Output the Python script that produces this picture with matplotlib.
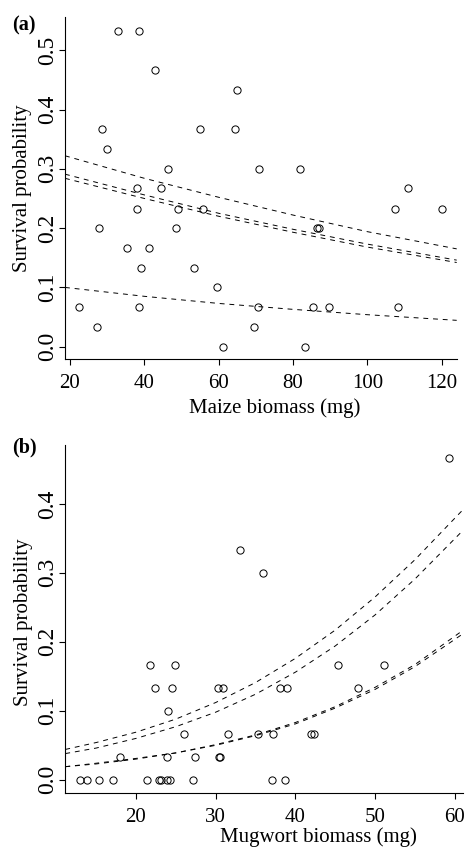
import numpy as np
import matplotlib
matplotlib.use("Agg")
import matplotlib.pyplot as plt

plt.rcParams['font.family'] = ['Liberation Serif', 'DejaVu Serif']

# panel (a): maize
maize_x = [33.0, 38.5, 42.8, 64.9, 28.7, 55.1, 64.4, 30.0, 46.4, 70.7, 81.9,
           38.0, 44.6, 110.8, 38.0, 49.1, 55.8, 107.4, 120.0, 27.8, 48.5, 86.3,
           86.9, 35.4, 41.2, 39.2, 53.4, 59.6, 22.5, 38.6, 70.6, 85.4, 89.7,
           108.3, 27.2, 69.5, 61.2, 83.2]
maize_y = [0.533, 0.533, 0.467, 0.433, 0.367, 0.367, 0.367, 0.333, 0.3, 0.3, 0.3,
           0.267, 0.267, 0.267, 0.233, 0.233, 0.233, 0.233, 0.233, 0.2, 0.2, 0.2,
           0.2, 0.167, 0.167, 0.133, 0.133, 0.1, 0.067, 0.067, 0.067, 0.067, 0.067,
           0.067, 0.033, 0.033, 0.0, 0.0]

# fitted curves
maize_fit_x = [18.66, 40, 60, 80, 100, 124]
maize_fit = [
    [0.322, 0.284, 0.252, 0.222, 0.194, 0.165],
    [0.291, 0.256, 0.225, 0.198, 0.173, 0.146],
    [0.284, 0.250, 0.220, 0.193, 0.168, 0.142],
    [0.100, 0.085, 0.073, 0.063, 0.054, 0.0445],
]

# panel (b): mugwort
mug_x = [59.3, 33.0, 35.9, 21.8, 24.9, 45.4, 51.1, 22.4, 24.5, 30.3, 30.9, 38.1,
         38.9, 47.9, 24.0, 26.0, 31.6, 35.3, 37.2, 42.0, 42.3, 18.0, 23.9, 27.4,
         30.4, 30.5, 13.0, 13.8, 15.4, 17.1, 21.4, 22.9, 23.2, 23.9, 24.3, 27.2,
         37.1, 38.7]
mug_y = [0.467, 0.333, 0.3] + [0.167] * 4 + [0.133] * 7 + [0.1] + [0.067] * 6 \
        + [0.033] * 5 + [0.0] * 12

mug_fit_x = [11.13, 15, 20, 25, 30, 35, 40, 45, 50, 55, 61.07]
mug_fit = [
    [0.044, 0.054, 0.069, 0.088, 0.112, 0.141, 0.176, 0.217, 0.265, 0.319, 0.392],
    [0.038, 0.046, 0.060, 0.077, 0.098, 0.124, 0.156, 0.194, 0.239, 0.291, 0.362],
    [0.019, 0.024, 0.031, 0.039, 0.051, 0.065, 0.083, 0.106, 0.134, 0.167, 0.217],
    [0.019, 0.023, 0.030, 0.039, 0.050, 0.064, 0.081, 0.104, 0.131, 0.164, 0.212],
]

W, H = 468, 847
fig = plt.figure(figsize=(W / 100, H / 100), dpi=100)


def make_axes(l, t, r, b):
    return fig.add_axes([l / W, 1 - b / H, (r - l) / W, (b - t) / H])


def style(ax):
    for s in ['top', 'right']:
        ax.spines[s].set_visible(False)
    for s in ['left', 'bottom']:
        ax.spines[s].set_linewidth(0.8)
    ax.tick_params(length=4, width=0.8, direction='out')
    ax.tick_params(axis='x', pad=7, labelsize=15)
    ax.tick_params(axis='y', labelrotation=90, pad=1, labelsize=17)
    for lbl in ax.get_yticklabels():
        lbl.set_va('center')


def panel(ax, x, y, fx, fits):
    for f in fits:
        ax.plot(fx, f, color='black', lw=0.7, linestyle=(0, (5, 5)))
    ax.plot(x, y, linestyle='none', marker='o', markersize=5.2,
            markerfacecolor='none', markeredgecolor='black', markeredgewidth=0.7,
            clip_on=False)


# (a)
ax1 = make_axes(65, 17.3, 456.7, 359)
panel(ax1, maize_x, maize_y, maize_fit_x, maize_fit)
ax1.set_xlim(18.66, 124.0)
ax1.set_ylim(-0.0207, 0.5555)
ax1.set_xticks([20, 40, 60, 80, 100, 120])
ax1.set_yticks([0.0, 0.1, 0.2, 0.3, 0.4, 0.5])
ax1.set_yticklabels(['0.0', '0.1', '0.2', '0.3', '0.4', '0.5'])
style(ax1)
ax1.set_xlabel('Maize biomass (mg)', fontsize=15)
ax1.xaxis.set_label_coords(0.536, -0.116)
ax1.set_ylabel('Survival probability', fontsize=15)
ax1.yaxis.set_label_coords(-0.083, 0.5)

# (b)
ax2 = make_axes(65.3, 445, 463.3, 792.7)
panel(ax2, mug_x, mug_y, mug_fit_x, mug_fit)
ax2.set_xlim(11.13, 61.07)
ax2.set_ylim(-0.0187, 0.4853)
ax2.set_xticks([20, 30, 40, 50, 60])
ax2.set_yticks([0.0, 0.1, 0.2, 0.3, 0.4])
ax2.set_yticklabels(['0.0', '0.1', '0.2', '0.3', '0.4'])
style(ax2)
ax2.set_xlabel('Mugwort biomass (mg)', fontsize=15)
ax2.xaxis.set_label_coords(0.635, -0.099)
ax2.set_ylabel('Survival probability', fontsize=15)
ax2.yaxis.set_label_coords(-0.082, 0.49)

fig.text(12 / W, 1 - 25 / H, '(a)', fontsize=14.5, fontweight='bold', va='center')
fig.text(12 / W, 1 - 447.5 / H, '(b)', fontsize=14.5, fontweight='bold', va='center')

fig.savefig('out.png', dpi=100)
